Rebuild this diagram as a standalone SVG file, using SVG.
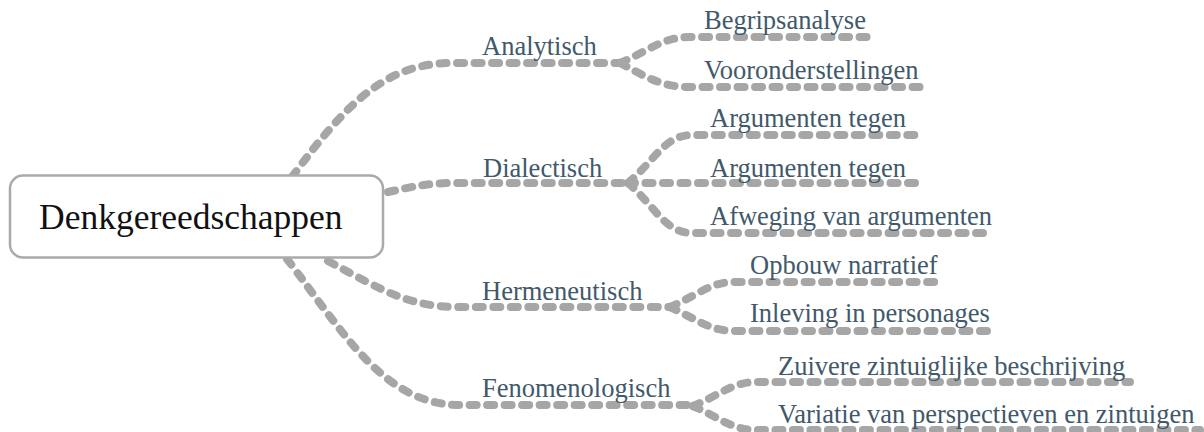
<svg xmlns="http://www.w3.org/2000/svg" width="1204" height="432" viewBox="0 0 1204 432">
<style>
.c{fill:none;stroke:#a6a6a6;stroke-width:8;stroke-linecap:round;stroke-linejoin:round;stroke-dasharray:7 10.5}
.t{font-family:"Liberation Serif","Times New Roman",serif;font-size:26.5px;fill:#41596b}
.root{font-family:"Liberation Serif","Times New Roman",serif;font-size:35.5px;fill:#111}
</style>
<rect width="1204" height="432" fill="#fff"/>
<g id="connectors">
<path class="c" d="M292 177 C345 105 385 63 452 63 L620 63"/>
<path class="c" d="M388 192 C415 186 430 183 455 183 L628 183"/>
<path class="c" d="M328 261 C385 292 410 307 460 307 L670 307"/>
<path class="c" d="M287 259 C345 335 385 405 460 405 L693 405"/>
<path class="c" d="M620 63 C650 50 663 37 690 37 L877 37"/>
<path class="c" d="M620 63 C645 76 660 87 690 87 L930 87"/>
<path class="c" d="M628 183 C655 160 665 135 692 135 L917 135"/>
<path class="c" d="M628 183 L917 183"/>
<path class="c" d="M628 183 C655 206 665 233 692 233 L990 233"/>
<path class="c" d="M670 307 C700 294 710 282 735 282 L942 282"/>
<path class="c" d="M670 307 C698 320 710 331 735 331 L997 331"/>
<path class="c" d="M693 406 C722 394 732 382 757 382 L1130 382"/>
<path class="c" d="M693 406 C720 418 732 430 757 430 L1200 430"/>
</g>
<g id="root">
<rect x="10" y="175.5" width="373" height="82" rx="13" fill="#fff" stroke="#aaaaaa" stroke-width="2.5"/>
<text class="root" x="39" y="229">Denkgereedschappen</text>
</g>
<g id="analytisch"><text class="t" x="482" y="55">Analytisch</text></g>
<g id="dialectisch"><text class="t" x="483" y="177">Dialectisch</text></g>
<g id="hermeneutisch"><text class="t" x="482" y="300">Hermeneutisch</text></g>
<g id="fenomenologisch"><text class="t" x="482" y="397">Fenomenologisch</text></g>
<g id="begripsanalyse"><text class="t" x="704" y="29">Begripsanalyse</text></g>
<g id="vooronderstellingen"><text class="t" x="704" y="79">Vooronderstellingen</text></g>
<g id="argumenten1"><text class="t" x="710" y="127">Argumenten tegen</text></g>
<g id="argumenten2"><text class="t" x="710" y="177">Argumenten tegen</text></g>
<g id="afweging"><text class="t" x="710" y="225">Afweging van argumenten</text></g>
<g id="opbouw"><text class="t" x="750" y="274">Opbouw narratief</text></g>
<g id="inleving"><text class="t" x="750" y="322">Inleving in personages</text></g>
<g id="zuivere"><text class="t" x="778" y="375">Zuivere zintuiglijke beschrijving</text></g>
<g id="variatie"><text class="t" x="778" y="423">Variatie van perspectieven en zintuigen</text></g>
</svg>
